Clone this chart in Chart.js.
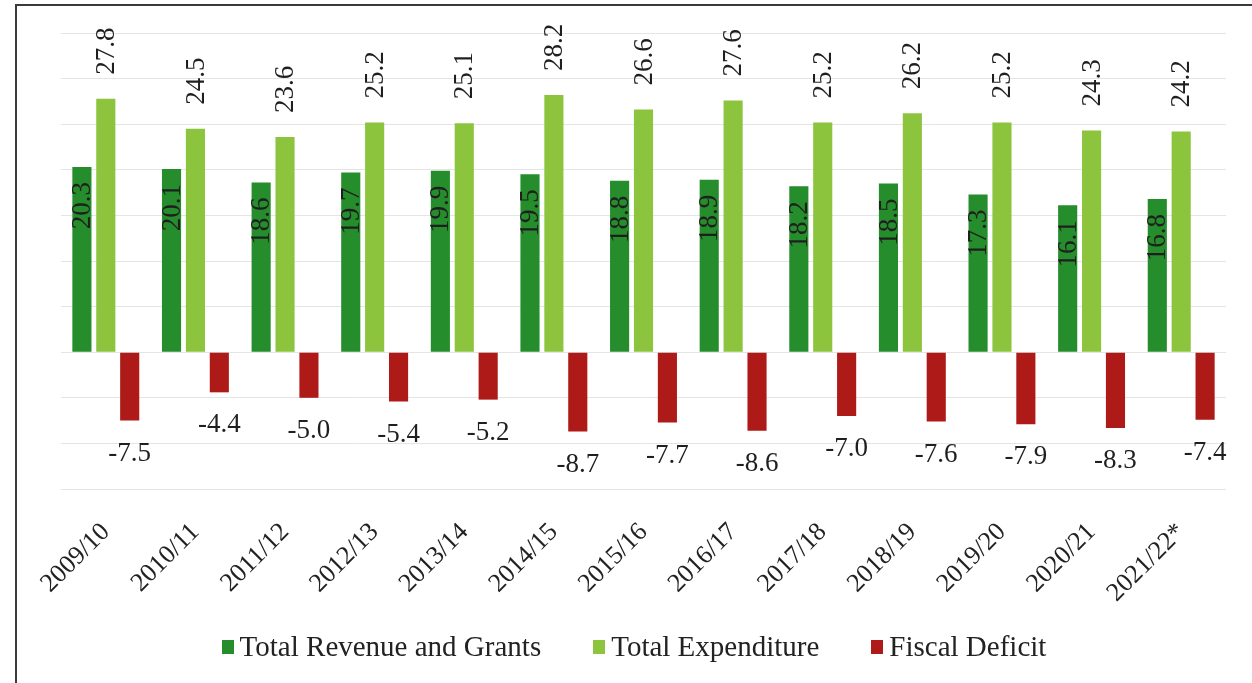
<!DOCTYPE html>
<html>
<head>
<meta charset="utf-8">
<script src="https://cdn.jsdelivr.net/npm/chart.js@4.4.1/dist/chart.umd.min.js"></script>
<style>
  html, body { margin: 0; padding: 0; background: #fff; }
  #wrap { position: relative; width: 1252px; height: 683px; overflow: hidden; }
  #frame { position: absolute; left: 15px; top: 4px; right: -5px; bottom: -5px;
           border-left: 2px solid #3a3a3a; border-top: 2px solid #3a3a3a; }
  canvas { position: absolute; left: 0; top: 0; }
  #legend { position: absolute; left: 16px; width: 1236px; top: 628px; display: flex;
            justify-content: center; font-family: "Liberation Serif", "Times New Roman", serif;
            font-size: 29px; color: #222; line-height: 36px; }
  #legend .item { display: flex; align-items: center; margin: 0 26px; }
  #legend .box { width: 12px; height: 14px; margin-right: 6px; margin-top: 2px; }
</style>
</head>
<body>
<div id="wrap">
  <div id="frame"></div>
  <canvas id="fiscalChart" width="1252" height="683"></canvas>
  <div id="legend"></div>
</div>
<script>
const years = ['2009/10', '2010/11', '2011/12', '2012/13', '2013/14', '2014/15', '2015/16',
               '2016/17', '2017/18', '2018/19', '2019/20', '2020/21', '2021/22*'];
const revenueGrants = [20.3, 20.1, 18.6, 19.7, 19.9, 19.5, 18.8, 18.9, 18.2, 18.5, 17.3, 16.1, 16.8];
const expenditure = [27.8, 24.5, 23.6, 25.2, 25.1, 28.2, 26.6, 27.6, 25.2, 26.2, 25.2, 24.3, 24.2];
const fiscalDeficit = [-7.5, -4.4, -5.0, -5.4, -5.2, -8.7, -7.7, -8.6, -7.0, -7.6, -7.9, -8.3, -7.4];

const serif = '"Liberation Serif", "Times New Roman", serif';

// value labels: revenue inside the bar, expenditure above, deficit below
const valueLabels = {
    id: 'valueLabels',
    afterDatasetsDraw(chart) {
        const ctx = chart.ctx;
        ctx.save();
        ctx.fillStyle = '#1f1f1f';
        ctx.font = '27px ' + serif;
        chart.data.datasets.forEach((ds, i) => {
            const meta = chart.getDatasetMeta(i);
            meta.data.forEach((bar, j) => {
                const txt = ds.data[j].toFixed(1);
                if (i === 0 || i === 1) {
                    ctx.save();
                    ctx.translate(bar.x + 1, i === 0 ? bar.y + 15 : bar.y - 24);
                    ctx.rotate(-Math.PI / 2);
                    ctx.textAlign = i === 0 ? 'right' : 'left';
                    ctx.textBaseline = 'middle';
                    ctx.fillText(txt, 0, 0);
                    ctx.restore();
                } else {
                    ctx.textAlign = 'center';
                    ctx.textBaseline = 'middle';
                    ctx.fillText(txt, bar.x, bar.y + 33);
                }
            });
        });
        ctx.restore();
    }
};

const ctx = document.getElementById('fiscalChart').getContext('2d');
const chart = new Chart(ctx, {
    type: 'bar',
    data: {
        labels: years,
        datasets: [
            { label: 'Total Revenue and Grants', data: revenueGrants, backgroundColor: '#258d2b' },
            { label: 'Total Expenditure', data: expenditure, backgroundColor: '#8cc43d' },
            { label: 'Fiscal Deficit', data: fiscalDeficit, backgroundColor: '#ad1a17' }
        ]
    },
    options: {
        responsive: false,
        animation: false,
        layout: { padding: { left: 61, right: 26, top: 33, bottom: 0 } },
        datasets: { bar: { categoryPercentage: 0.8, barPercentage: 0.8 } },
        plugins: {
            legend: { display: false },
            tooltip: { enabled: false }
        },
        scales: {
            x: {
                grid: { display: false },
                border: { display: false },
                ticks: {
                    color: '#222',
                    font: { family: serif, size: 26 },
                    minRotation: 45,
                    maxRotation: 45,
                    padding: 20
                },
                afterFit(scale) { scale.height = 194; }
            },
            y: {
                min: -15,
                max: 35,
                border: { display: false },
                grid: { color: '#e4e4e4', lineWidth: 1, drawTicks: false },
                ticks: { display: false, stepSize: 5 },
                afterFit(scale) { scale.width = 0; }
            }
        }
    },
    plugins: [valueLabels]
});

// html legend built from the datasets
const legend = document.getElementById('legend');
chart.data.datasets.forEach(ds => {
    const item = document.createElement('div');
    item.className = 'item';
    const box = document.createElement('span');
    box.className = 'box';
    box.style.background = ds.backgroundColor;
    item.appendChild(box);
    item.appendChild(document.createTextNode(ds.label));
    legend.appendChild(item);
});
</script>
</body>
</html>
